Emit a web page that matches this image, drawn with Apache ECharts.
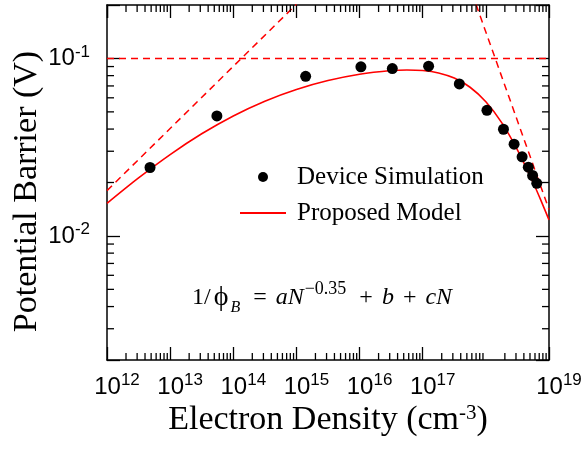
<!DOCTYPE html>
<html>
<head>
<meta charset="utf-8">
<script src="https://cdn.jsdelivr.net/npm/echarts@6/dist/echarts.min.js"></script>
<style>
  html, body { margin: 0; padding: 0; background: #fff; }
  #chart { width: 586px; height: 450px; }
</style>
</head>
<body>
<div id="chart"></div>
<script>
// Device simulation: electron density N (cm^-3) vs potential barrier (V)
const simDensity = [4.8e12, 5.5e13, 1.4e15, 1.05e16, 3.3e16, 1.24e17, 3.8e17,
                    1.04e18, 1.9e18, 2.8e18, 3.75e18, 4.7e18, 5.5e18, 6.4e18];
const simBarrier = [0.0243, 0.0474, 0.0793, 0.0897, 0.0877, 0.0904, 0.0718,
                    0.0510, 0.0399, 0.0329, 0.0279, 0.0244, 0.0219, 0.0198];

// Proposed model curve
const modelDensity = [1e12, 3.16e12, 1e13, 3.16e13, 1e14, 3.16e14, 1e15, 3.16e15,
                      1e16, 3.16e16, 5.62e16, 1e17, 1.78e17, 3.16e17, 5.62e17,
                      1e18, 1.78e18, 3.16e18, 5.62e18, 7.5e18, 1e19];
const modelBarrier = [0.01526, 0.02122, 0.02874, 0.03762, 0.04744, 0.05745, 0.06686, 0.07502,
                      0.08142, 0.08546, 0.08615, 0.08549, 0.08286, 0.07749, 0.06881,
                      0.05701, 0.04350, 0.03054, 0.01993, 0.01576, 0.01232];

// Limiting lines (dashed): low-density N^0.35, plateau, high-density 1/N
const lowDensity = [1e12, 1e15];
const lowBarrier = [0.0180, 0.202];
const plateauDensity = [1e12, 1e19];
const plateauBarrier = [0.1, 0.1];
const highDensity = [7e17, 1e19];
const highBarrier = [0.2012, 0.01408];

// Axis ranges
const xMin = 1e12, xMax = 1e19;
const yMin = 0.002, yMax = 0.2;

// Minor tick positions (log decades)
const xMinor = [];
for (let n = 12; n < 19; n++) for (let k = 2; k <= 9; k++) xMinor.push(k * Math.pow(10, n));
const yMinor = [];
for (let n = -3; n < 0; n++) for (let k = 2; k <= 9; k++) {
  const v = k * Math.pow(10, n);
  if (v > yMin * 1.001 && v < yMax * 0.999) yMinor.push(v);
}

const zip = (xs, ys) => xs.map((x, i) => [x, ys[i]]);

const RED = '#ff0000';
const SANS = 'Liberation Sans';
const SERIF = 'Liberation Serif';

function powLabel(v) {
  const lg = Math.log10(v);
  const e = Math.round(lg);
  if (Math.abs(lg - e) > 1e-6) return '';
  return '{b|10}{s|' + e + '}';
}

const xLabelRich = {
  b: { fontFamily: SANS, fontSize: 24, color: '#000', lineHeight: 30, padding: [0, 0, 0, 20] },
  s: { fontFamily: SANS, fontSize: 17, color: '#000', lineHeight: 20, verticalAlign: 'top' }
};
const yLabelRich = {
  b: { fontFamily: SANS, fontSize: 24, color: '#000', lineHeight: 30 },
  s: { fontFamily: SANS, fontSize: 17, color: '#000', lineHeight: 20, verticalAlign: 'top' }
};

const axisLine = { show: true, lineStyle: { color: '#000', width: 1.5 } };
const majorTick = { show: true, inside: true, length: 13, lineStyle: { color: '#000', width: 1.3 } };

const chart = echarts.init(document.getElementById('chart'), null, { renderer: 'canvas' });

chart.setOption({
  animation: false,
  backgroundColor: '#fff',
  grid: { left: 107, right: 37, top: 5, bottom: 90, containLabel: false, outerBoundsMode: 'none' },
  xAxis: [
    {
      type: 'log', logBase: 10, min: xMin, max: xMax, position: 'bottom',
      axisLine, axisTick: majorTick, splitLine: { show: false }, minorTick: { show: false },
      axisLabel: { margin: 12, formatter: powLabel, rich: xLabelRich, showMinLabel: true, showMaxLabel: true, hideOverlap: false },
      name: 'Electron Density (cm{sup|-3})',
      nameLocation: 'middle', nameGap: 43, nameMoveOverlap: false,
      nameTextStyle: {
        fontFamily: SERIF, fontSize: 34, color: '#000', verticalAlign: 'top',
        rich: { sup: { fontFamily: SERIF, fontSize: 21, color: '#000', lineHeight: 22, verticalAlign: 'top' } }
      }
    },
    {
      type: 'log', logBase: 10, min: xMin, max: xMax, position: 'top',
      axisLine, axisTick: majorTick, axisLabel: { show: false }, splitLine: { show: false }
    }
  ],
  yAxis: [
    {
      type: 'log', logBase: 10, min: yMin, max: yMax, position: 'left',
      axisLine, axisTick: majorTick, splitLine: { show: false }, minorTick: { show: false },
      axisLabel: { margin: 17, formatter: powLabel, rich: yLabelRich },
      name: 'Potential Barrier (V)',
      nameLocation: 'middle', nameGap: 63, nameRotate: 90, nameMoveOverlap: false,
      nameTextStyle: { fontFamily: SERIF, fontSize: 34, color: '#000', padding: [0, 18, 0, 0] }
    },
    {
      type: 'log', logBase: 10, min: yMin, max: yMax, position: 'right',
      axisLine, axisTick: majorTick, axisLabel: { show: false }, splitLine: { show: false }
    }
  ],
  legend: {
    orient: 'vertical', left: 234, top: 159,
    itemWidth: 46, itemHeight: 10, itemGap: 10,
    selectedMode: false,
    textStyle: { fontFamily: SERIF, fontSize: 25, color: '#000', lineHeight: 26, padding: [0, 0, 0, 6] },
    data: [
      { name: 'Device Simulation' },
      { name: 'Proposed Model', itemStyle: { opacity: 0 } }
    ]
  },
  graphic: [
    {
      type: 'text', left: 192, top: 280, z: 10,
      style: {
        text: '{n|1/}{phi|ϕ}{sb|B}{op|=}{it|a}{it|N}{sp|−0.35}{op|+}{it|b}{op|+}{it|c}{it|N}',
        rich: {
          n: { fontFamily: SERIF, fontSize: 24, color: '#000', lineHeight: 36 },
          phi: { fontFamily: SERIF, fontSize: 28, color: '#000', lineHeight: 36, padding: [0, 2, 0, 3] },
          op: { fontFamily: SERIF, fontSize: 24, color: '#000', lineHeight: 36, padding: [0, 9, 0, 9] },
          it: { fontFamily: SERIF, fontSize: 24, fontStyle: 'italic', color: '#000', lineHeight: 36 },
          sb: { fontFamily: SERIF, fontSize: 16, fontStyle: 'italic', color: '#000', lineHeight: 17, verticalAlign: 'bottom', padding: [0, 4, 0, 0] },
          sp: { fontFamily: SERIF, fontSize: 18, color: '#000', lineHeight: 18, verticalAlign: 'top', padding: [0, 4, 0, 1] }
        }
      }
    }
  ],
  series: [
    {
      name: 'Plateau', type: 'line', data: zip(plateauDensity, plateauBarrier),
      symbol: 'none', lineStyle: { color: RED, width: 1.5, type: [7, 5] }, z: 2, silent: true
    },
    {
      name: 'Low limit', type: 'line', data: zip(lowDensity, lowBarrier),
      symbol: 'none', lineStyle: { color: RED, width: 1.5, type: [7, 5] }, z: 2, silent: true
    },
    {
      name: 'High limit', type: 'line', data: zip(highDensity, highBarrier),
      symbol: 'none', lineStyle: { color: RED, width: 1.5, type: [7, 5] }, z: 2, silent: true
    },
    {
      name: 'Proposed Model', type: 'line', data: zip(modelDensity, modelBarrier),
      symbol: 'none', smooth: 0.3, color: RED, lineStyle: { color: RED, width: 1.6 }, z: 3
    },
    {
      name: 'Device Simulation', type: 'scatter', data: zip(simDensity, simBarrier),
      symbol: 'circle', symbolSize: 11, itemStyle: { color: '#000', opacity: 1 }, z: 4
    },
    {
      name: 'minor ticks', type: 'custom', data: [[xMin, yMin]], clip: false, silent: true, z: 5,
      renderItem(params, api) {
        const children = [];
        const style = { stroke: '#000', lineWidth: 1.3 };
        xMinor.forEach(v => {
          const b = api.coord([v, yMin]);
          const t = api.coord([v, yMax]);
          children.push({ type: 'line', shape: { x1: b[0], y1: b[1], x2: b[0], y2: b[1] - 7 }, style });
          children.push({ type: 'line', shape: { x1: t[0], y1: t[1], x2: t[0], y2: t[1] + 7 }, style });
        });
        yMinor.forEach(v => {
          const l = api.coord([xMin, v]);
          const r = api.coord([xMax, v]);
          children.push({ type: 'line', shape: { x1: l[0], y1: l[1], x2: l[0] + 7, y2: l[1] }, style });
          children.push({ type: 'line', shape: { x1: r[0], y1: r[1], x2: r[0] - 7, y2: r[1] }, style });
        });
        return { type: 'group', children };
      }
    }
  ]
});
</script>
</body>
</html>
